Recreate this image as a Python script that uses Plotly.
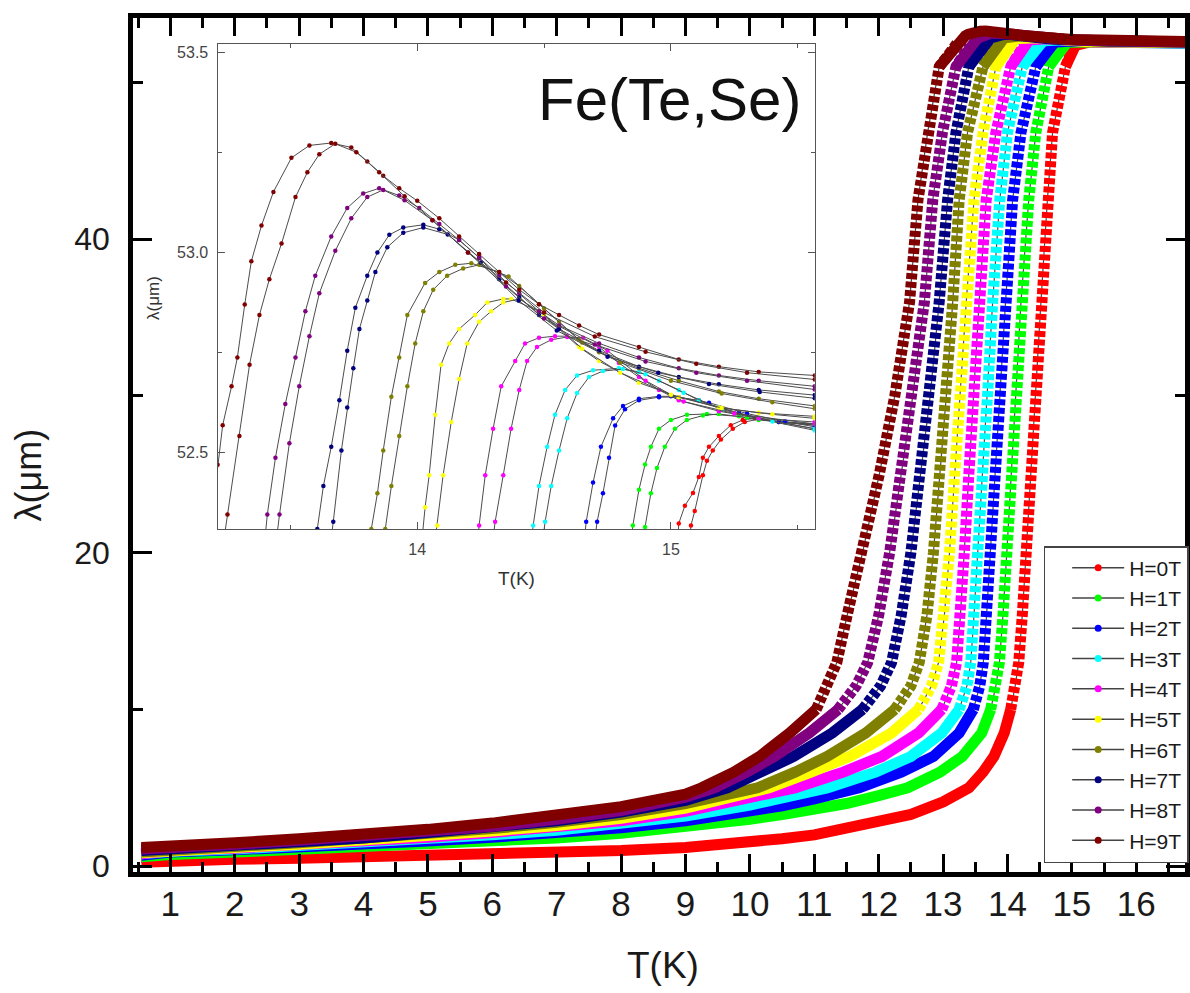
import plotly.graph_objects as go

# ---------------- data ----------------
FIELDS = ["H=0T", "H=1T", "H=2T", "H=3T", "H=4T", "H=5T", "H=6T", "H=7T", "H=8T", "H=9T"]
COLORS = ["#FF0000", "#00FF00", "#0000FF", "#00FFFF", "#FF00FF",
          "#FFFF00", "#808000", "#000080", "#800080", "#800000"]

# low-temperature part: common T grid (K), lambda (um) per field (values below ~5 um)
LOW_T = [0.55, 1, 2, 3, 4, 5, 6, 7, 8, 9, 10, 10.5, 11, 11.5, 12, 12.5, 13]
LOW_H0 = [0.25, 0.35, 0.45, 0.5, 0.58, 0.65, 0.75, 0.85, 1.0, 1.2, 1.5, 1.75, 2.0, 2.4, 2.8, 3.3, 4.1]
LOW_H1 = [0.6, 0.75, 0.9, 1.05, 1.2, 1.4, 1.6, 1.8, 2.1, 2.5, 3.0, 3.3, 3.6, 4.0, 4.5]
LOW_H2 = [0.7, 0.9, 1.05, 1.2, 1.4, 1.6, 1.85, 2.1, 2.45, 2.9, 3.5, 3.85, 4.3, 4.8]
LOW_H3 = [0.8, 0.95, 1.1, 1.3, 1.5, 1.75, 2.0, 2.3, 2.7, 3.2, 3.9, 4.3, 4.8]
LOW_H4 = [0.8, 1.0, 1.15, 1.35, 1.6, 1.85, 2.15, 2.45, 2.9, 3.5, 4.3, 4.8]
LOW_H5 = [0.85, 1.0, 1.2, 1.4, 1.65, 1.95, 2.25, 2.6, 3.05, 3.7, 4.6]
LOW_H6 = [0.9, 1.05, 1.25, 1.5, 1.75, 2.05, 2.4, 2.8, 3.3, 4.0, 4.8]
LOW_H7 = [1.0, 1.1, 1.3, 1.55, 1.8, 2.15, 2.5, 2.9, 3.45, 4.2]
LOW_H8 = [1.1, 1.15, 1.4, 1.65, 1.9, 2.2, 2.55, 3.0, 3.55, 4.4]
LOW_H9 = [1.2, 1.25, 1.5, 1.75, 2.0, 2.35, 2.75, 3.2, 3.8, 4.6]

# transition part: temperature (K) at which each curve reaches these lambda levels (um)
TRANS_LEVELS = [5, 6, 7, 8.5, 10, 11.5, 13, 16, 20, 25, 30, 36, 42.5, 46.8, 51.0]
TRANS_H0 = [13.40, 13.62, 13.79, 13.95, 14.05, 14.12, 14.175, 14.23, 14.29, 14.36, 14.44, 14.52, 14.62, 14.70, 14.90]
TRANS_H1 = [12.45, 12.95, 13.30, 13.60, 13.74, 13.82, 13.875, 13.93, 13.99, 14.06, 14.135, 14.21, 14.33, 14.44, 14.64]
TRANS_H2 = [11.70, 12.35, 12.85, 13.25, 13.47, 13.57, 13.625, 13.675, 13.735, 13.81, 13.89, 13.97, 14.08, 14.21, 14.44]
TRANS_H3 = [11.20, 11.95, 12.50, 12.98, 13.25, 13.37, 13.43, 13.48, 13.54, 13.61, 13.69, 13.77, 13.88, 14.00, 14.23]
TRANS_H4 = [10.70, 11.45, 12.05, 12.62, 12.98, 13.13, 13.21, 13.27, 13.33, 13.40, 13.48, 13.56, 13.67, 13.82, 14.05]
TRANS_H5 = [10.30, 10.95, 11.55, 12.20, 12.62, 12.82, 12.93, 13.02, 13.10, 13.18, 13.27, 13.36, 13.48, 13.62, 13.82]
TRANS_H6 = [10.12, 10.70, 11.20, 11.80, 12.25, 12.50, 12.63, 12.75, 12.85, 12.95, 13.05, 13.15, 13.25, 13.38, 13.62]
TRANS_H7 = [9.65, 10.20, 10.68, 11.28, 11.75, 12.03, 12.20, 12.35, 12.50, 12.65, 12.80, 12.94, 13.07, 13.20, 13.40]
TRANS_H8 = [9.45, 9.95, 10.38, 10.92, 11.37, 11.65, 11.83, 12.00, 12.17, 12.35, 12.53, 12.71, 12.84, 12.99, 13.20]
TRANS_H9 = [9.25, 9.75, 10.15, 10.62, 11.03, 11.20, 11.35, 11.51, 11.75, 12.01, 12.25, 12.48, 12.61, 12.76, 12.94]

# near-Tc detail (inset), two sweeps (A, B) per field: (T K, lambda um)
INSET_A_H0 = [(15.031, 52.324), (15.055, 52.368), (15.087, 52.40), (15.11, 52.44), (15.126, 52.488),
              (15.15, 52.515), (15.189, 52.542), (15.236, 52.569), (15.283, 52.582), (15.331, 52.586),
              (15.425, 52.577), (15.567, 52.569)]
INSET_B_H0 = [(15.079, 52.319), (15.094, 52.355), (15.126, 52.444), (15.142, 52.48), (15.165, 52.506),
              (15.197, 52.533), (15.244, 52.56), (15.291, 52.577), (15.346, 52.584), (15.45, 52.577),
              (15.567, 52.572)]
INSET_A_H1 = [(14.85, 52.319), (14.874, 52.408), (14.898, 52.471), (14.921, 52.515), (14.953, 52.56),
              (15.0, 52.582), (15.063, 52.595), (15.142, 52.597), (15.268, 52.591), (15.346, 52.582),
              (15.425, 52.577), (15.567, 52.569)]
INSET_B_H1 = [(14.898, 52.315), (14.921, 52.399), (14.945, 52.462), (14.976, 52.515), (15.016, 52.56),
              (15.063, 52.582), (15.126, 52.593), (15.189, 52.597), (15.30, 52.588), (15.45, 52.576),
              (15.567, 52.571)]
INSET_A_H2 = [(14.666, 52.328), (14.693, 52.426), (14.724, 52.515), (14.772, 52.586), (14.811, 52.617),
              (14.874, 52.635), (14.953, 52.641), (15.0, 52.641), (15.11, 52.631), (15.189, 52.613),
              (15.268, 52.60), (15.346, 52.586), (15.425, 52.577), (15.567, 52.56)]
INSET_B_H2 = [(14.709, 52.328), (14.732, 52.399), (14.756, 52.488), (14.78, 52.568), (14.819, 52.609),
              (14.874, 52.631), (14.953, 52.639), (15.031, 52.639), (15.15, 52.625), (15.30, 52.598),
              (15.45, 52.578), (15.567, 52.565)]
INSET_A_H3 = [(14.457, 52.319), (14.48, 52.417), (14.512, 52.515), (14.543, 52.595), (14.583, 52.657),
              (14.63, 52.693), (14.693, 52.706), (14.795, 52.711), (14.874, 52.702), (14.953, 52.68),
              (15.031, 52.657), (15.11, 52.631), (15.189, 52.613), (15.346, 52.586), (15.567, 52.56)]
INSET_B_H3 = [(14.504, 52.328), (14.528, 52.417), (14.559, 52.506), (14.591, 52.586), (14.63, 52.649),
              (14.677, 52.689), (14.732, 52.704), (14.811, 52.709), (14.90, 52.696), (15.05, 52.65),
              (15.20, 52.608), (15.40, 52.578), (15.567, 52.556)]
INSET_A_H4 = [(14.244, 52.319), (14.268, 52.444), (14.299, 52.56), (14.331, 52.666), (14.386, 52.729),
              (14.425, 52.773), (14.48, 52.787), (14.543, 52.791), (14.591, 52.791), (14.717, 52.764),
              (14.795, 52.724), (14.874, 52.689), (14.953, 52.657), (15.031, 52.631), (15.189, 52.604),
              (15.346, 52.586), (15.567, 52.577)]
INSET_B_H4 = [(14.307, 52.328), (14.339, 52.444), (14.37, 52.56), (14.402, 52.657), (14.433, 52.729),
              (14.472, 52.764), (14.528, 52.782), (14.591, 52.789), (14.654, 52.787), (14.75, 52.755),
              (14.90, 52.68), (15.05, 52.628), (15.25, 52.598), (15.567, 52.572)]
INSET_A_H5 = [(14.031, 52.364), (14.047, 52.444), (14.071, 52.595), (14.094, 52.72), (14.126, 52.773),
              (14.165, 52.809), (14.228, 52.844), (14.276, 52.875), (14.339, 52.884), (14.37, 52.884),
              (14.48, 52.853), (14.559, 52.809), (14.638, 52.764), (14.717, 52.729), (14.874, 52.675),
              (15.031, 52.639), (15.189, 52.613), (15.346, 52.60), (15.567, 52.591)]
INSET_B_H5 = [(14.079, 52.319), (14.102, 52.444), (14.134, 52.577), (14.165, 52.684), (14.197, 52.773),
              (14.244, 52.827), (14.291, 52.853), (14.339, 52.875), (14.402, 52.884), (14.50, 52.845),
              (14.65, 52.76), (14.80, 52.70), (15.0, 52.645), (15.20, 52.612), (15.40, 52.596),
              (15.567, 52.586)]
INSET_A_H6 = [(13.819, 52.31), (13.843, 52.399), (13.866, 52.506), (13.898, 52.64), (13.929, 52.738),
              (13.961, 52.844), (14.031, 52.924), (14.087, 52.951), (14.15, 52.969), (14.213, 52.973),
              (14.323, 52.951), (14.402, 52.916), (14.48, 52.871), (14.559, 52.827), (14.638, 52.782),
              (14.717, 52.751), (14.874, 52.711), (15.031, 52.68), (15.189, 52.653), (15.346, 52.635),
              (15.567, 52.617)]
INSET_B_H6 = [(13.874, 52.31), (13.898, 52.417), (13.929, 52.542), (13.961, 52.666), (13.992, 52.773),
              (14.024, 52.853), (14.063, 52.907), (14.118, 52.942), (14.181, 52.96), (14.244, 52.969),
              (14.36, 52.94), (14.50, 52.86), (14.65, 52.775), (14.80, 52.725), (15.0, 52.68),
              (15.20, 52.648), (15.40, 52.626), (15.567, 52.61)]
INSET_A_H7 = [(13.606, 52.31), (13.63, 52.417), (13.661, 52.515), (13.693, 52.631), (13.724, 52.755),
              (13.756, 52.862), (13.803, 52.942), (13.843, 53.0), (13.89, 53.044), (13.945, 53.062),
              (14.024, 53.069), (14.087, 53.058), (14.165, 53.031), (14.244, 52.987), (14.323, 52.933),
              (14.402, 52.889), (14.48, 52.844), (14.559, 52.809), (14.717, 52.755), (14.874, 52.715),
              (15.031, 52.689), (15.189, 52.671), (15.346, 52.657), (15.567, 52.644)]
INSET_B_H7 = [(13.669, 52.328), (13.701, 52.506), (13.724, 52.613), (13.748, 52.711), (13.772, 52.809),
              (13.803, 52.88), (13.835, 52.951), (13.882, 53.013), (13.945, 53.049), (14.024, 53.062),
              (14.12, 53.045), (14.25, 52.975), (14.40, 52.88), (14.55, 52.805), (14.75, 52.74),
              (14.95, 52.70), (15.15, 52.672), (15.35, 52.652), (15.567, 52.636)]
INSET_A_H8 = [(13.409, 52.346), (13.441, 52.488), (13.48, 52.622), (13.52, 52.738), (13.559, 52.853),
              (13.598, 52.942), (13.661, 53.04), (13.724, 53.111), (13.787, 53.147), (13.85, 53.16),
              (13.929, 53.142), (14.008, 53.111), (14.087, 53.071), (14.165, 53.031), (14.244, 52.987),
              (14.323, 52.942), (14.402, 52.898), (14.48, 52.853), (14.559, 52.818), (14.717, 52.773),
              (14.874, 52.738), (15.031, 52.711), (15.189, 52.693), (15.346, 52.68), (15.567, 52.666)]
INSET_B_H8 = [(13.457, 52.346), (13.496, 52.524), (13.535, 52.666), (13.575, 52.791), (13.614, 52.898),
              (13.677, 53.004), (13.74, 53.085), (13.803, 53.138), (13.866, 53.156), (13.95, 53.13),
              (14.06, 53.08), (14.20, 53.0), (14.35, 52.915), (14.50, 52.835), (14.70, 52.77),
              (14.90, 52.728), (15.10, 52.70), (15.30, 52.68), (15.567, 52.658)]
INSET_A_H9 = [(13.213, 52.47), (13.233, 52.569), (13.268, 52.666), (13.291, 52.738), (13.32, 52.87),
              (13.346, 52.978), (13.386, 53.067), (13.433, 53.151), (13.504, 53.236), (13.575, 53.267),
              (13.661, 53.273), (13.74, 53.262), (13.803, 53.227), (13.866, 53.191), (13.929, 53.16),
              (14.0, 53.129), (14.087, 53.085), (14.165, 53.04), (14.244, 52.996), (14.323, 52.951),
              (14.402, 52.907), (14.48, 52.871), (14.559, 52.844), (14.638, 52.818), (14.717, 52.795),
              (14.874, 52.764), (15.031, 52.733), (15.189, 52.715), (15.346, 52.702), (15.567, 52.693)]
INSET_B_H9 = [(13.252, 52.346), (13.299, 52.542), (13.339, 52.72), (13.378, 52.844), (13.417, 52.933),
              (13.465, 53.022), (13.52, 53.138), (13.567, 53.20), (13.614, 53.245), (13.677, 53.271),
              (13.76, 53.25), (13.85, 53.20), (13.95, 53.14), (14.06, 53.08), (14.20, 53.0),
              (14.35, 52.925), (14.50, 52.85), (14.70, 52.79), (14.90, 52.752), (15.10, 52.722),
              (15.30, 52.70), (15.567, 52.683)]

# high-temperature tail (main panel)
TAIL_T = [16.0, 16.4, 16.8]
TAIL_H0 = [52.55, 52.54, 52.53]
TAIL_H1 = [52.55, 52.54, 52.53]
TAIL_H2 = [52.54, 52.53, 52.52]
TAIL_H3 = [52.54, 52.53, 52.52]
TAIL_H4 = [52.56, 52.55, 52.54]
TAIL_H5 = [52.58, 52.56, 52.55]
TAIL_H6 = [52.60, 52.58, 52.56]
TAIL_H7 = [52.62, 52.60, 52.57]
TAIL_H8 = [52.64, 52.61, 52.58]
TAIL_H9 = [52.66, 52.63, 52.60]

LOW = [LOW_H0, LOW_H1, LOW_H2, LOW_H3, LOW_H4, LOW_H5, LOW_H6, LOW_H7, LOW_H8, LOW_H9]
TRANS = [TRANS_H0, TRANS_H1, TRANS_H2, TRANS_H3, TRANS_H4, TRANS_H5, TRANS_H6, TRANS_H7, TRANS_H8, TRANS_H9]
INSET_A = [INSET_A_H0, INSET_A_H1, INSET_A_H2, INSET_A_H3, INSET_A_H4,
           INSET_A_H5, INSET_A_H6, INSET_A_H7, INSET_A_H8, INSET_A_H9]
INSET_B = [INSET_B_H0, INSET_B_H1, INSET_B_H2, INSET_B_H3, INSET_B_H4,
           INSET_B_H5, INSET_B_H6, INSET_B_H7, INSET_B_H8, INSET_B_H9]
TAIL = [TAIL_H0, TAIL_H1, TAIL_H2, TAIL_H3, TAIL_H4, TAIL_H5, TAIL_H6, TAIL_H7, TAIL_H8, TAIL_H9]

MAIN_XTICKS = list(range(1, 17))
MAIN_XMINOR = [k + 0.5 for k in range(0, 17)]
MAIN_YTICKS = [0, 20, 40]
MAIN_YMINOR = [10, 30, 50]
INSET_XTICKS = [14, 15]
INSET_XMINOR = [13.5, 14.5, 15.5]
INSET_YTICKS = [52.5, 53.0, 53.5]
INSET_YTEXT = ["52.5", "53.0", "53.5"]
INSET_YMINOR = [52.75, 53.25]

# ---------------- figure ----------------
W, H = 1190, 993
ML, MR, MT, MB = 133, 0, 18, 121
PW, PH = W - ML - MR, H - MT - MB


def px(x):
    return (x - ML) / PW


def py(y):
    return (H - MB - y) / PH


FONT = "Liberation Sans, Arial, sans-serif"
GRAY_LINE = "#4d4d4d"
BAND = 11
TRANS_START = 4  # index of the 10 um level: dotted look starts here

fig = go.Figure()

for i in range(10):
    low = LOW[i]
    lx, ly = LOW_T[:len(low)], low
    tx, ty = TRANS[i], TRANS_LEVELS
    ax_, ay_ = [p[0] for p in INSET_A[i]], [p[1] for p in INSET_A[i]]
    top_x = ax_ + TAIL_T
    top_y = ay_ + TAIL[i]
    all_x = lx + tx + top_x
    all_y = ly + ty + top_y
    # thin connecting line
    fig.add_trace(go.Scatter(x=all_x, y=all_y, mode="lines", showlegend=False, hoverinfo="skip",
                             line=dict(color=GRAY_LINE, width=1.2)))
    # dense-marker band: low part + knee (solid)
    fig.add_trace(go.Scatter(x=lx + tx[:TRANS_START + 1], y=ly + ty[:TRANS_START + 1], mode="lines",
                             showlegend=False, hoverinfo="skip",
                             line=dict(color=COLORS[i], width=BAND)))
    # steep transition (dotted look of individual markers)
    fig.add_trace(go.Scatter(x=tx[TRANS_START:] + [top_x[0]], y=ty[TRANS_START:] + [top_y[0]],
                             mode="lines", showlegend=False, hoverinfo="skip",
                             line=dict(color=COLORS[i], width=BAND, dash="6px,2.5px")))
    # top / plateau (solid)
    fig.add_trace(go.Scatter(x=[tx[-1]] + top_x, y=[ty[-1]] + top_y, mode="lines", showlegend=False,
                             line=dict(color=COLORS[i], width=BAND), hoverinfo="skip"))

# inset traces
for i in range(10):
    for br in (INSET_A[i], INSET_B[i]):
        bx = [TRANS[i][-1]] + [p[0] for p in br]
        by = [TRANS_LEVELS[-1]] + [p[1] for p in br]
        fig.add_trace(go.Scatter(x=bx, y=by, mode="lines+markers", xaxis="x2", yaxis="y2",
                                 showlegend=False, hoverinfo="skip",
                                 line=dict(color=GRAY_LINE, width=1),
                                 marker=dict(color=COLORS[i], size=4.5)))

# legend entries
for i in range(10):
    fig.add_trace(go.Scatter(x=[None], y=[None], mode="lines+markers", name=FIELDS[i],
                             line=dict(color="#444444", width=1.5),
                             marker=dict(color=COLORS[i], size=7)))

axis_common = dict(showgrid=False, zeroline=False, ticks="inside", mirror="ticks",
                   linecolor="black", tickcolor="black", linewidth=4.5, tickwidth=3)

fig.update_layout(
    width=W, height=H,
    margin=dict(l=ML, r=MR, t=MT, b=MB, pad=0),
    paper_bgcolor="white", plot_bgcolor="white",
    font=dict(family=FONT, color="#1a1a1a"),
    xaxis=dict(range=[0.42, 16.757], tickmode="array", tickvals=MAIN_XTICKS, ticklen=18,
               tickfont=dict(size=35, family=FONT, color="#1a1a1a"), ticklabelstandoff=-3,
               minor=dict(tickmode="array", tickvals=MAIN_XMINOR, ticklen=10, tickwidth=3,
                          ticks="inside", tickcolor="black"),
               **axis_common),
    yaxis=dict(range=[-0.37, 54.11], tickmode="array", tickvals=MAIN_YTICKS, ticklen=19,
               tickfont=dict(size=32, family=FONT, color="#1a1a1a"), ticklabelstandoff=12,
               minor=dict(tickmode="array", tickvals=MAIN_YMINOR, ticklen=10, tickwidth=3,
                          ticks="inside", tickcolor="black"),
               **axis_common),
    xaxis2=dict(domain=[px(218), px(818)], anchor="y2", range=[13.213, 15.567],
                tickmode="array", tickvals=INSET_XTICKS, showgrid=False, zeroline=False,
                ticks="inside", ticklen=7, tickwidth=1.2, tickcolor="#555555",
                linecolor="#555555", linewidth=1.3, mirror="ticks",
                tickfont=dict(size=16, color="#444444"), ticklabelstandoff=6,
                minor=dict(tickmode="array", tickvals=INSET_XMINOR, ticklen=4, tickwidth=1.2,
                           ticks="inside", tickcolor="#555555")),
    yaxis2=dict(domain=[py(529), py(44)], anchor="x2", range=[52.31, 53.52],
                tickmode="array", tickvals=INSET_YTICKS, ticktext=INSET_YTEXT,
                showgrid=False, zeroline=False,
                ticks="inside", ticklen=7, tickwidth=1.2, tickcolor="#555555",
                linecolor="#555555", linewidth=1.3, mirror="ticks",
                tickfont=dict(size=16, color="#444444"), ticklabelstandoff=5,
                minor=dict(tickmode="array", tickvals=INSET_YMINOR, ticklen=4, tickwidth=1.2,
                           ticks="inside", tickcolor="#555555")),
    legend=dict(x=px(1048), y=py(546), xanchor="left", yanchor="top",
                bgcolor="white", bordercolor="#444444", borderwidth=1.5,
                font=dict(size=21, family=FONT, color="#1a1a1a"),
                tracegroupgap=0, itemwidth=52, indentation=22),
    showlegend=True,
)

annotations = [
    dict(text="T(K)", x=px(666), y=py(966), xref="paper", yref="paper", showarrow=False,
         xanchor="center", yanchor="middle", font=dict(size=37, family=FONT, color="#1a1a1a")),
    dict(text="λ(μm)", x=px(28), y=py(475), xref="paper", yref="paper", showarrow=False,
         xanchor="center", yanchor="middle", textangle=-90,
         font=dict(size=36, family=FONT, color="#1a1a1a")),
    dict(text="T(K)", x=px(518), y=py(578), xref="paper", yref="paper", showarrow=False,
         xanchor="center", yanchor="middle", font=dict(size=19, family=FONT, color="#333333")),
    dict(text="λ(μm)", x=px(153), y=py(298), xref="paper", yref="paper", showarrow=False,
         xanchor="center", yanchor="middle", textangle=-90,
         font=dict(size=17, family=FONT, color="#333333")),
    dict(text="Fe(Te,Se)", x=px(806), y=py(99), xref="paper", yref="paper", showarrow=False,
         xanchor="right", yanchor="middle", font=dict(size=60, family=FONT, color="#111111")),
]
fig.update_layout(annotations=annotations)

fig.write_html("out.html")
